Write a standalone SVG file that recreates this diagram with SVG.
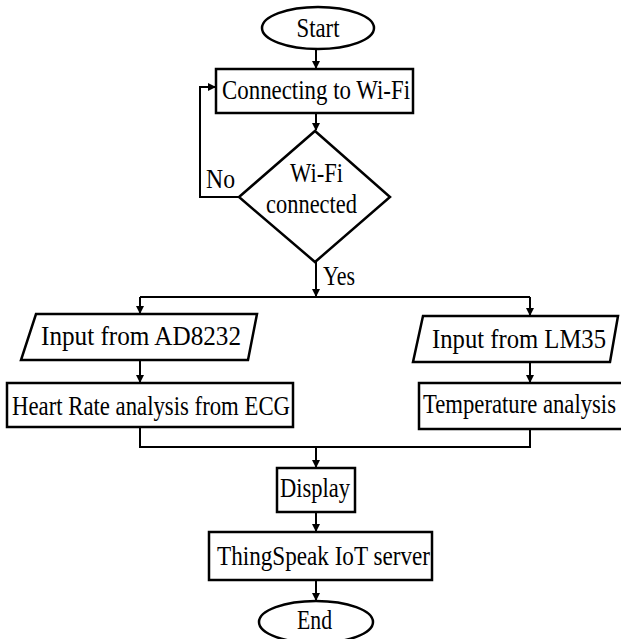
<svg xmlns="http://www.w3.org/2000/svg" width="621" height="639" viewBox="0 0 621 639">
<style>
.s{fill:#fff;stroke:#000;stroke-width:2.5}
.t{font-family:"Liberation Serif","Times New Roman",serif;font-size:28px;fill:#000}
.c{fill:none;stroke:#000;stroke-width:2}
</style>
<defs>
<marker id="a" markerWidth="8" markerHeight="8" refX="7" refY="4" orient="auto" markerUnits="userSpaceOnUse">
<path d="M0,0 L8,4 L0,8 Z" fill="#000"/>
</marker>
</defs>
<rect width="621" height="639" fill="#fff"/>
<g id="connectors">
<path class="c" d="M316,49 V68" marker-end="url(#a)"/>
<path class="c" d="M316,113 V130" marker-end="url(#a)"/>
<path class="c" d="M239,197 H200 V87 H215" marker-end="url(#a)"/>
<path class="c" d="M316,262 V296"  marker-end="url(#a)"/>
<path class="c" d="M140,297 H530"/>
<path class="c" d="M140,297 V313" marker-end="url(#a)"/>
<path class="c" d="M530,297 V315" marker-end="url(#a)"/>
<path class="c" d="M140,360 V382" marker-end="url(#a)"/>
<path class="c" d="M530,362 V382" marker-end="url(#a)"/>
<path class="c" d="M140,427 V447 H530 V429"/>
<path class="c" d="M316,447 V467" marker-end="url(#a)"/>
<path class="c" d="M316,512 V531" marker-end="url(#a)"/>
<path class="c" d="M316,580 V600" marker-end="url(#a)"/>
</g>
<g id="start">
<ellipse class="s" cx="318" cy="28" rx="56" ry="21"/>
<text class="t" x="318" y="37" text-anchor="middle" textLength="43" lengthAdjust="spacingAndGlyphs">Start</text>
</g>
<g id="connecting">
<rect class="s" x="216" y="69" width="197" height="44"/>
<text class="t" x="222" y="99" textLength="188" lengthAdjust="spacingAndGlyphs">Connecting to Wi-Fi</text>
</g>
<g id="decision">
<polygon class="s" points="315,131 390,197 315,262 239,197"/>
<text class="t" x="290" y="182" textLength="53" lengthAdjust="spacingAndGlyphs">Wi-Fi</text>
<text class="t" x="266" y="213" textLength="91" lengthAdjust="spacingAndGlyphs">connected</text>
</g>
<g id="labels">
<text class="t" x="206" y="188" textLength="29" lengthAdjust="spacingAndGlyphs">No</text>
<text class="t" x="323" y="285" textLength="32" lengthAdjust="spacingAndGlyphs">Yes</text>
</g>
<g id="input-ad8232">
<polygon class="s" points="36,314 257,314 248,360 21,360"/>
<text class="t" x="41" y="345" textLength="200" lengthAdjust="spacingAndGlyphs">Input from AD8232</text>
</g>
<g id="input-lm35">
<polygon class="s" points="423,316 618,316 610,362 413,362"/>
<text class="t" x="432" y="348" textLength="174" lengthAdjust="spacingAndGlyphs">Input from LM35</text>
</g>
<g id="heart-rate">
<rect class="s" x="7" y="383" width="286" height="44"/>
<text class="t" x="12" y="415" textLength="278" lengthAdjust="spacingAndGlyphs">Heart Rate analysis from ECG</text>
</g>
<g id="temperature">
<rect class="s" x="419" y="383" width="205" height="46"/>
<text class="t" x="423" y="413" textLength="193" lengthAdjust="spacingAndGlyphs">Temperature analysis</text>
</g>
<g id="display">
<rect class="s" x="277" y="468" width="78" height="44"/>
<text class="t" x="280" y="497" textLength="70" lengthAdjust="spacingAndGlyphs">Display</text>
</g>
<g id="thingspeak">
<rect class="s" x="209" y="532" width="223" height="48"/>
<text class="t" x="217" y="565" textLength="213" lengthAdjust="spacingAndGlyphs">ThingSpeak IoT server</text>
</g>
<g id="end">
<ellipse class="s" cx="316" cy="622" rx="57" ry="21"/>
<text class="t" x="297" y="629" textLength="35" lengthAdjust="spacingAndGlyphs">End</text>
</g>
</svg>
